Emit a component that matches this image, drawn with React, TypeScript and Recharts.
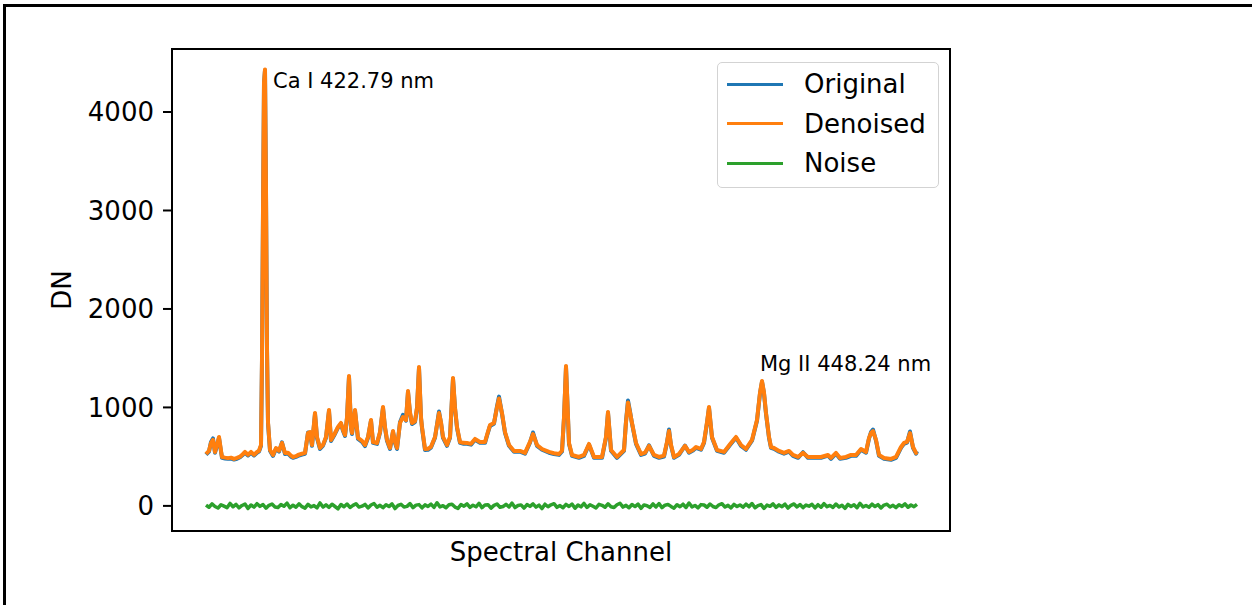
import React from 'react';
import { LineChart, Line, XAxis, YAxis, Legend, ReferenceDot, ReferenceArea } from 'recharts';

// ---- data ----
const channels = [0, 3, 5, 7, 9, 12, 13, 15, 16, 19, 22, 25, 28, 31, 34, 37, 39, 42, 45, 48, 51, 53, 55, 56, 57, 58, 59, 60, 61, 62, 64, 67, 70, 73, 76, 79, 82, 85, 87, 90, 92, 96, 99, 102, 104, 106, 109, 111, 114, 117, 120, 123, 125, 128, 132, 135, 137, 139, 141, 143, 145, 146, 149, 152, 156, 159, 162, 165, 167, 171, 174, 177, 179, 181, 184, 187, 189, 191, 194, 197, 200, 202, 204, 206, 209, 211, 213, 215, 216, 219, 222, 225, 229, 233, 235, 237, 241, 244, 245, 247, 249, 251, 254, 257, 261, 265, 269, 274, 279, 281, 284, 288, 291, 293, 296, 299, 303, 308, 314, 319, 324, 327, 331, 336, 343, 348, 353, 356, 358, 360, 362, 363, 366, 373, 378, 383, 388, 396, 400, 402, 404, 405, 411, 418, 420, 422, 424, 426, 430, 435, 439, 443, 448, 453, 458, 461, 463, 465, 468, 473, 479, 483, 487, 490, 495, 498, 501, 503, 505, 506, 511, 518, 525, 530, 535, 540, 546, 551, 554, 556, 558, 560, 563, 565, 568, 573, 578, 583, 587, 592, 597, 602, 608, 615, 622, 625, 630, 634, 640, 645, 650, 655, 660, 663, 665, 667, 670, 673, 678, 685, 690, 695, 698, 701, 704, 707, 710, 711];

const denoised = [527, 560, 640, 670, 548, 660, 700, 560, 497, 490, 485, 490, 477, 487, 500, 527, 548, 520, 548, 520, 548, 560, 620, 1500, 3000, 4300, 4432, 3200, 1600, 850, 568, 517, 588, 560, 639, 537, 540, 510, 497, 505, 517, 530, 538, 740, 750, 619, 943, 700, 588, 620, 700, 974, 670, 720, 801, 842, 771, 720, 900, 1318, 800, 740, 974, 690, 660, 619, 700, 872, 649, 639, 750, 1004, 800, 670, 588, 760, 650, 588, 842, 903, 872, 1166, 950, 842, 860, 1000, 1410, 900, 801, 578, 580, 600, 700, 943, 850, 700, 619, 700, 900, 1298, 1000, 801, 649, 640, 639, 630, 680, 649, 649, 720, 821, 842, 1000, 1090, 943, 750, 619, 558, 558, 538, 650, 730, 619, 578, 548, 535, 527, 560, 900, 1420, 900, 639, 517, 497, 517, 629, 497, 497, 700, 953, 700, 568, 497, 568, 850, 1050, 950, 842, 639, 527, 540, 609, 517, 497, 510, 650, 760, 620, 497, 527, 609, 548, 570, 598, 578, 649, 850, 1004, 800, 700, 568, 548, 639, 700, 619, 578, 670, 872, 1150, 1268, 1150, 943, 700, 598, 588, 558, 538, 558, 517, 497, 538, 497, 497, 497, 517, 487, 538, 487, 497, 517, 517, 578, 548, 690, 740, 760, 670, 517, 487, 477, 497, 598, 639, 650, 740, 598, 538, 548];

const original = [520, 552, 650, 685, 540, 650, 690, 552, 488, 482, 478, 480, 470, 478, 494, 520, 540, 512, 540, 512, 540, 552, 610, 1480, 2980, 4290, 4425, 3190, 1590, 840, 560, 508, 580, 552, 645, 528, 532, 500, 488, 498, 508, 522, 530, 745, 742, 610, 935, 690, 578, 612, 692, 965, 660, 712, 795, 835, 762, 710, 890, 1310, 792, 730, 965, 680, 650, 608, 692, 865, 640, 630, 742, 995, 792, 660, 578, 752, 640, 578, 850, 925, 865, 1158, 940, 832, 852, 990, 1400, 890, 792, 568, 570, 592, 692, 958, 842, 690, 610, 692, 890, 1290, 990, 792, 640, 632, 630, 622, 672, 640, 640, 712, 812, 835, 1010, 1110, 935, 742, 610, 550, 550, 530, 642, 745, 610, 570, 540, 526, 518, 552, 890, 1410, 890, 630, 508, 488, 508, 622, 488, 488, 692, 945, 692, 560, 488, 560, 860, 1070, 960, 835, 630, 518, 532, 615, 508, 488, 502, 642, 775, 612, 488, 518, 612, 540, 562, 590, 570, 640, 842, 995, 792, 692, 560, 540, 630, 692, 610, 570, 662, 865, 1142, 1260, 1142, 935, 692, 590, 580, 550, 530, 550, 508, 488, 545, 488, 488, 488, 510, 478, 530, 478, 488, 508, 508, 570, 540, 682, 750, 775, 662, 508, 478, 468, 488, 590, 630, 642, 755, 590, 530, 555];

const NOISE_STEP = 3;
const noise = [8, -14, 20, -6, -22, 12, -3, -18, 25, -9,
  15, -20, 4, 18, -26, 9, -12, 22, -5, 14,
  -24, 6, 19, -11, -17, 13, -4, 28, -19, 7,
  -13, 21, -8, -23, 16, -10, 3, -20, 30, -12,
  10, -15, 17, -6, -30, 14, -9, 19, -16, 5,
  22, -12, -3, 15, -21, 9, 24, -14, 6, -18,
  12, -7, 20, -27, 4, 16, -11, -5, 23, -17,
  8, 13, -20, 10, -6, 18, -15, 32, -10, 2,
  -19, 11, 17, -12, -25, 14, -3, 21, -16, 7,
  -9, 26, -18, 9, 12, -23, 5, 19, -14, -7,
  16, -11, 28, -17, 4, 10, -22, 14, -5, 20,
  -13, 8, -27, 17, -9, 11, 22, -15, 3, -19,
  15, -6, 19, -24, 9, -10, 25, -16, 12, -4,
  -21, 16, 6, -14, 21, -9, -17, 11, 27, -12,
  5, -19, 14, -7, 18, -25, 10, 2, -15, 20,
  -11, 24, -18, 7, 15, -5, -23, 12, -9, 17,
  -16, 29, -10, 4, -20, 13, 9, -14, 19, -6,
  -17, 11, 22, -12, 5, -21, 15, -7, 10, -13,
  18, -9, 24, -19, 3, 13, -26, 8, -4, 21,
  -15, 10, -8, 17, -22, 6, 20, -11, 14, -18,
  9, -3, 16, -20, 12, -14, 23, -8, 5, -16,
  19, -12, 7, -25, 15, -6, 11, -19, 26, -10,
  4, -13, 18, -7, 13, -21, 8, 16, -11, 6,
  -17, 12, -5, 20, -14, 9, -8, 15];

const yTicks = [0, 1000, 2000, 3000, 4000];
const xDomain = [-34, 744];
const yDomain = [-255, 4640];
const legendOrder = ['Original', 'Denoised', 'Noise'];

const annotations = [
  { channel: 59, value: 4432, text: 'Ca I 422.79 nm' },
  { channel: 556, value: 1268, text: 'Mg II 448.24 nm' },
];
const annotationOffsets = [
  { dx: 8, dy: 19 },
  { dx: -2, dy: -10 },
];

const spectrum = channels.map((c, i) => ({ channel: c, original: original[i], denoised: denoised[i] }));
const noiseRows = noise.map((v, i) => ({ channel: i * NOISE_STEP, noise: v }));

const FONT = '"DejaVu Sans", Verdana, sans-serif';
const BLUE = '#1f77b4';
const ORANGE = '#ff7f0e';
const GREEN = '#2ca02c';

const renderLegend = (props: any) => {
  const payload = [...(props.payload || [])].sort(
    (a: any, b: any) => legendOrder.indexOf(a.value) - legendOrder.indexOf(b.value));
  return (
    <div style={{
      boxSizing: 'border-box', width: 222, height: 126, border: '1.5px solid #d3d3d3',
      borderRadius: 5, background: 'rgba(255,255,255,0.8)', position: 'relative', fontFamily: FONT,
    }}>
      {payload.map((p: any, i: number) => (
        <div key={String(p.value)} style={{
          position: 'absolute', left: 0, top: 21 + i * 39.5 - 16, height: 32,
          display: 'flex', alignItems: 'center',
        }}>
          <div style={{ marginLeft: 9, width: 56, height: 3, background: p.color }} />
          <span style={{ marginLeft: 21, fontSize: 26, color: '#000', lineHeight: '32px', whiteSpace: 'nowrap' }}>{p.value}</span>
        </div>
      ))}
    </div>
  );
};

const makeAnnotationLabel = (text: string, dx: number, dy: number) => (props: any) => {
  const vb = props.viewBox || {};
  const cx = vb.x + (vb.width || 0) / 2;
  const cy = vb.y + (vb.height || 0) / 2;
  return (
    <text x={cx + dx} y={cy + dy} fontSize={21} fill="#000" fontFamily={FONT} textAnchor="start">{text}</text>
  );
};

const xLabel = (props: any) => {
  const vb = props.viewBox || {};
  return (
    <text x={vb.x + vb.width / 2} y={vb.y + 30} fontSize={26} fill="#000" fontFamily={FONT} textAnchor="middle">Spectral Channel</text>
  );
};

const yLabel = (props: any) => {
  const vb = props.viewBox || {};
  const cx = vb.x - 30;
  const cy = vb.y + vb.height / 2;
  return (
    <text x={cx} y={cy} transform={`rotate(-90 ${cx} ${cy})`} fontSize={26} fill="#000" fontFamily={FONT} textAnchor="middle" dominantBaseline="central">DN</text>
  );
};

export default function App() {
  return (
    <div style={{ position: 'absolute', left: 0, top: 0, width: 1252, height: 605, overflow: 'hidden', background: '#fff' }}>
      <div style={{
        position: 'absolute', left: 3, top: 4, width: 1300, height: 700,
        borderTop: '3px solid #000', borderLeft: '3px solid #000',
      }} />
      <div style={{ position: 'absolute', left: 0, top: 0, fontFamily: FONT }}>
        <LineChart width={1252} height={605} data={spectrum} margin={{ top: 49, right: 302, bottom: 44, left: 92 }}>
          <XAxis dataKey="channel" type="number" domain={xDomain} allowDataOverflow tick={false} tickLine={false}
            height={30} axisLine={{ stroke: '#000', strokeWidth: 2 }} label={xLabel} />
          <YAxis type="number" domain={yDomain} ticks={yTicks} allowDataOverflow width={80}
            tick={{ fill: '#000', fontSize: 26, fontFamily: FONT }} tickSize={9} tickMargin={9}
            tickLine={{ stroke: '#000', strokeWidth: 2 }} axisLine={{ stroke: '#000', strokeWidth: 2 }} label={yLabel} />
          <Line dataKey="original" name="Original" stroke={BLUE} strokeWidth={4} dot={false} isAnimationActive={false} strokeLinejoin="round" />
          <Line dataKey="denoised" name="Denoised" stroke={ORANGE} strokeWidth={4} dot={false} isAnimationActive={false} strokeLinejoin="round" />
          <Line data={noiseRows} dataKey="noise" name="Noise" stroke={GREEN} strokeWidth={3.5} dot={false} isAnimationActive={false} strokeLinejoin="round" />
          <ReferenceArea x1={xDomain[0]} x2={xDomain[1]} y1={yDomain[0]} y2={yDomain[1]} ifOverflow="visible"
            fill="none" fillOpacity={0} stroke="#000" strokeWidth={2} strokeOpacity={1} />
          {annotations.map((a, i) => (
            <ReferenceDot key={a.text} x={a.channel} y={a.value} r={0} fill="none" stroke="none"
              label={makeAnnotationLabel(a.text, annotationOffsets[i].dx, annotationOffsets[i].dy)} />
          ))}
          <Legend layout="horizontal" verticalAlign="middle" align="center" content={renderLegend}
            wrapperStyle={{ position: 'absolute', left: 717, top: 62, width: 222, height: 126 }} />
        </LineChart>
      </div>
    </div>
  );
}
